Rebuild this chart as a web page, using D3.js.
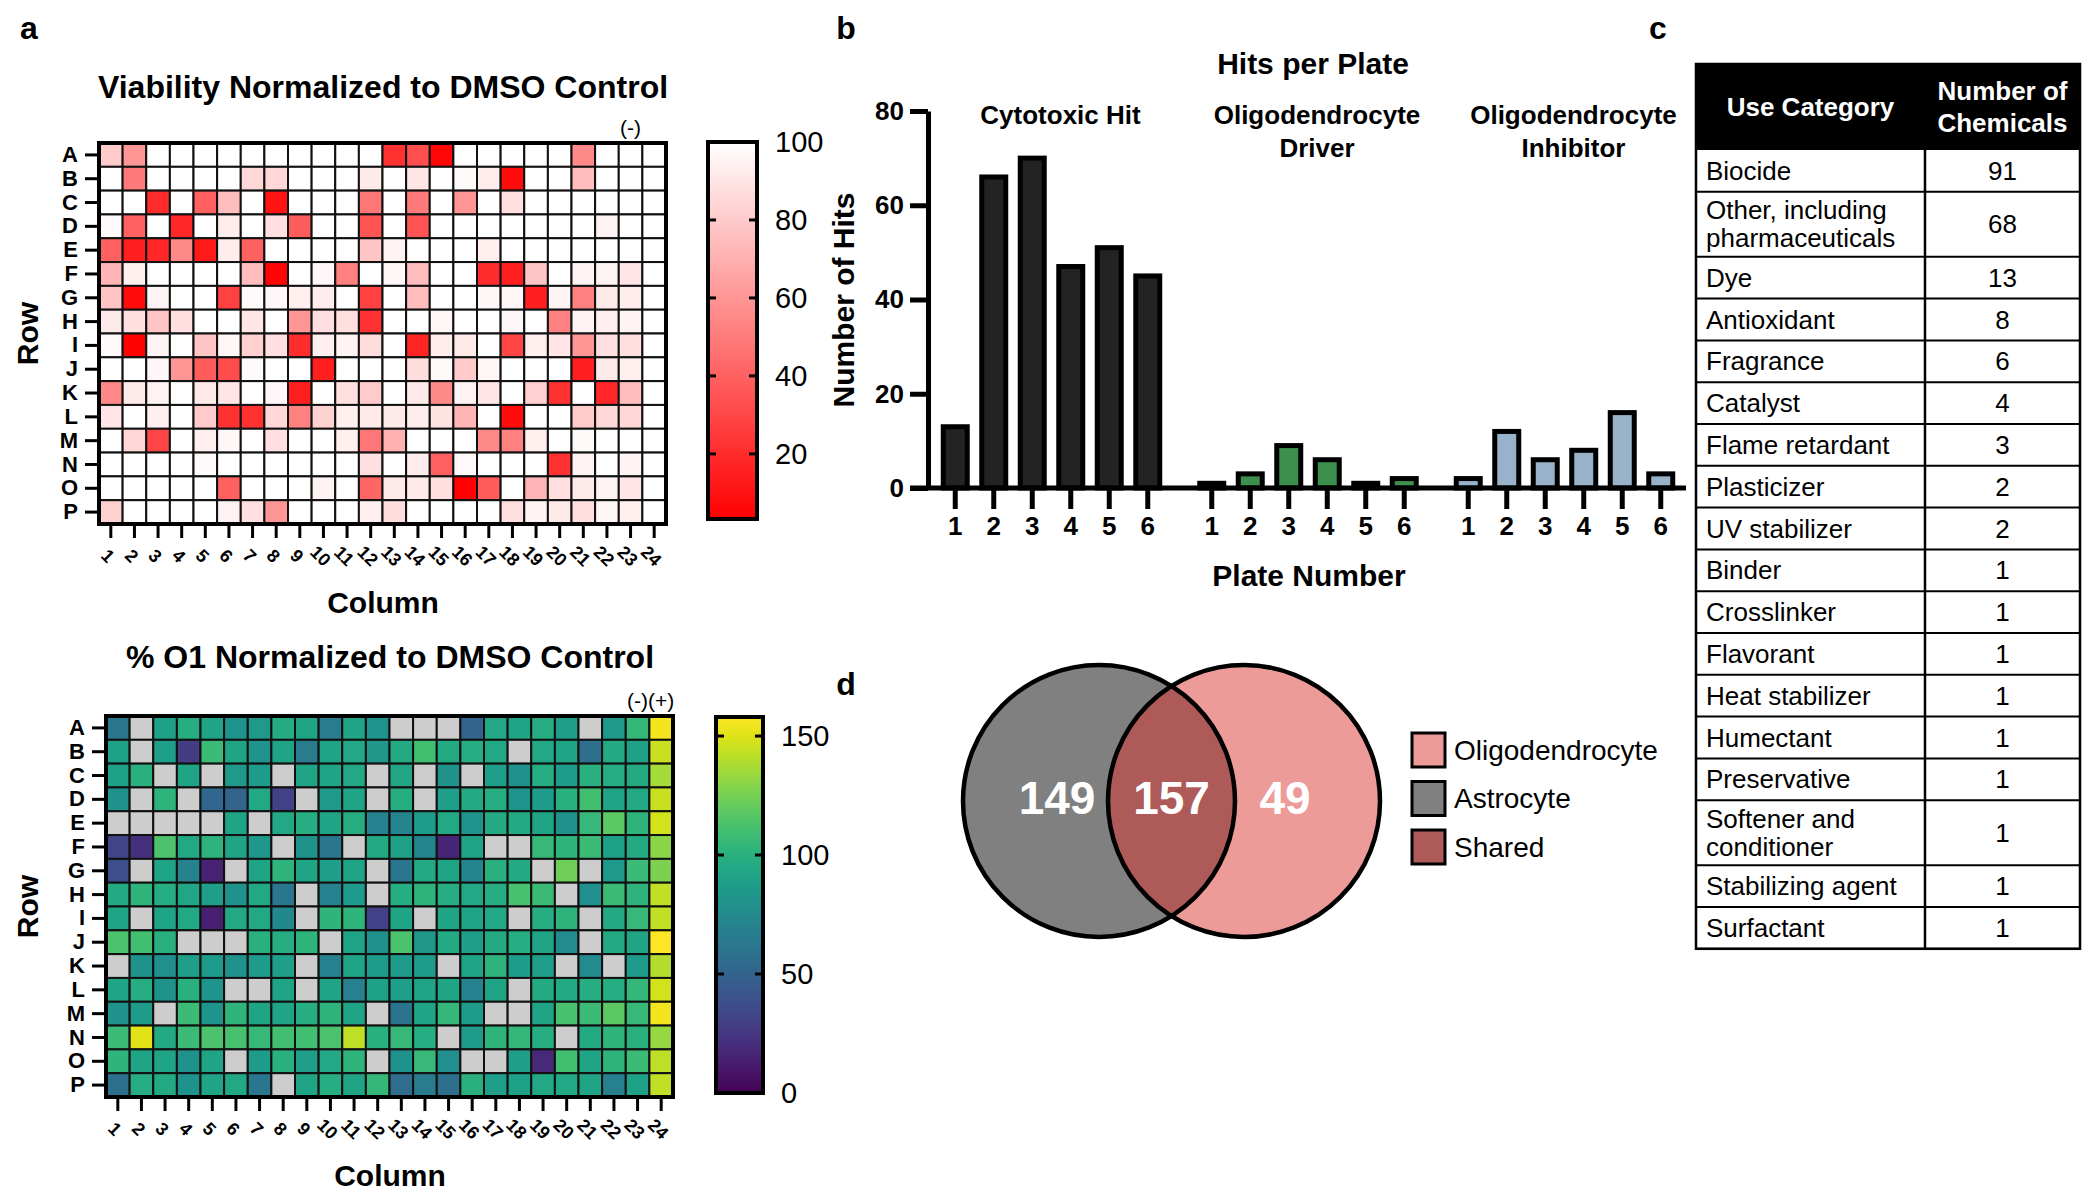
<!DOCTYPE html>
<html><head><meta charset="utf-8">
<script src="https://cdn.jsdelivr.net/npm/d3@7"></script>
<style>
body{margin:0;background:#fff}
svg{display:block}
text{font-family:"Liberation Sans",Arial,Helvetica,sans-serif;fill:#000}
</style>
</head><body>
<svg id="fig" width="2100" height="1201"></svg>
<script>
// ---------------- DATA ----------------
const rowLabels = ["A","B","C","D","E","F","G","H","I","J","K","L","M","N","O","P"];
const colLabels = ["1","2","3","4","5","6","7","8","9","10","11","12","13","14","15","16","17","18","19","20","21","22","23","24"];

// Viability normalized to DMSO control (%)
const viability = [
 [80,60,100,100,100,100,100,100,100,100,100,100,22,33,6,100,100,100,100,100,55,100,100,100],
 [100,50,100,100,100,100,85,85,100,100,100,92,100,90,100,98,93,8,100,100,75,100,100,100],
 [100,100,20,100,40,75,100,10,100,100,100,48,100,50,100,60,100,88,100,100,100,100,100,100],
 [98,40,100,18,100,93,100,88,38,100,100,35,100,35,100,100,100,100,100,100,100,95,100,100],
 [40,15,18,55,13,93,40,100,100,100,100,78,95,100,100,100,94,100,100,100,100,100,100,100],
 [72,94,100,100,100,100,75,5,100,97,52,100,97,75,100,100,20,15,78,100,96,96,90,100],
 [78,8,96,100,100,28,98,97,94,93,100,28,100,75,100,100,97,97,15,96,52,92,93,100],
 [92,88,78,88,100,100,90,100,60,88,88,22,100,100,97,100,100,97,100,52,95,94,96,100],
 [98,4,96,100,78,97,82,88,20,94,96,87,100,17,93,92,100,30,94,90,60,88,88,100],
 [100,100,97,60,38,32,98,100,100,15,100,100,100,87,98,80,97,100,100,100,15,92,94,100],
 [55,92,95,100,92,90,100,97,15,100,88,80,100,92,55,95,90,100,82,22,100,18,75,100],
 [90,100,94,100,80,22,22,85,52,83,94,92,92,93,89,72,100,8,100,100,80,85,85,100],
 [100,85,30,100,94,97,100,88,100,100,94,48,70,100,100,100,55,52,94,100,98,100,100,100],
 [100,100,100,100,98,100,100,100,100,100,100,88,100,93,40,98,100,100,100,22,95,100,96,100],
 [100,100,100,100,100,40,100,100,100,95,100,42,92,92,88,4,38,100,72,88,92,96,90,100],
 [82,100,100,100,100,95,88,60,100,100,100,94,87,100,100,100,100,88,96,92,88,97,94,100]
];

// % O1 normalized to DMSO control (null = excluded well)
const o1 = [
 [62,null,90,98,92,82,85,97,92,66,92,82,null,null,null,50,95,92,98,88,null,85,105,155],
 [90,null,88,28,108,92,82,92,66,92,95,84,96,110,96,98,95,null,95,92,57,96,90,145],
 [90,100,null,92,null,85,86,null,92,92,95,null,93,null,80,null,88,80,98,86,100,98,96,137],
 [80,null,102,null,52,50,95,30,null,85,92,null,98,null,88,96,98,82,86,100,110,92,95,145],
 [null,null,null,null,null,92,null,95,98,92,98,70,72,86,95,82,96,96,92,80,106,118,102,147],
 [32,22,113,95,102,92,84,null,80,62,null,96,90,72,17,92,null,null,106,103,108,90,96,130],
 [38,null,92,70,15,null,92,102,92,88,92,null,62,96,92,72,100,96,null,123,null,85,108,127],
 [96,103,98,93,88,80,95,62,null,68,86,null,98,102,98,95,98,112,108,null,78,108,102,143],
 [92,null,92,95,14,95,95,74,null,103,103,30,92,null,92,92,95,null,98,102,null,96,106,143],
 [113,110,100,null,null,null,100,98,103,null,92,80,113,84,96,88,96,98,92,75,null,96,92,158],
 [null,80,78,88,86,80,86,88,null,68,92,86,86,86,null,92,102,86,88,null,75,null,86,140],
 [92,98,80,100,82,null,null,92,null,92,68,90,88,92,92,70,92,null,96,96,98,98,105,147],
 [80,86,null,108,82,103,92,92,98,102,92,null,60,92,105,86,null,null,92,112,108,118,106,155],
 [108,150,96,108,113,112,106,110,110,113,142,100,106,98,null,86,103,105,98,null,96,103,100,133],
 [103,92,92,80,92,null,86,100,88,95,103,null,80,106,78,null,null,88,18,110,92,102,108,142],
 [58,98,96,80,92,95,62,null,92,98,92,105,55,65,57,100,88,90,95,95,92,68,90,143]
];
const viabilityTicks = [20,40,60,80,100];
const o1Ticks = [0,50,100,150];

const plates = ["1","2","3","4","5","6"];
const hitGroups = ["Cytotoxic Hit","Oligodendrocyte Driver","Oligodendrocyte Inhibitor"];
const hitGroupLines = [["Cytotoxic Hit"],["Oligodendrocyte","Driver"],["Oligodendrocyte","Inhibitor"]];
const cytotoxicHits = [13,66,70,47,51,45];
const driverHits = [1,3,9,6,1,2];
const inhibitorHits = [2,12,6,8,16,3];
const hitTicks = [0,20,40,60,80];

const useCategories = ["Biocide","Other, including\npharmaceuticals","Dye","Antioxidant","Fragrance","Catalyst",
 "Flame retardant","Plasticizer","UV stabilizer","Binder","Crosslinker","Flavorant","Heat stabilizer",
 "Humectant","Preservative","Softener and\nconditioner","Stabilizing agent","Surfactant"];
const chemicalCounts = [91,68,13,8,6,4,3,2,2,1,1,1,1,1,1,1,1,1];

const vennSets = ["Astrocyte","Shared","Oligodendrocyte"];
const vennCounts = [149,157,49];
const legendOrder = ["Oligodendrocyte","Astrocyte","Shared"];

// ---------------- DRAW ----------------
const svg = d3.select("#fig");
const FONT = '"Liberation Sans",Arial,Helvetica,sans-serif';

function txt(g, x, y, s, size, weight, anchor){
  return g.append("text").attr("x",x).attr("y",y).text(s)
    .style("font-size",size+"px").style("font-weight",weight||400)
    .attr("text-anchor",anchor||"middle").attr("dominant-baseline","central");
}

// panel letters
txt(svg,29,28,"a",32,700);
txt(svg,846,28,"b",32,700);
txt(svg,1658,28,"c",32,700);
txt(svg,846,684,"d",32,700);

function heatmap(cfg){
  const g = svg.append("g");
  const x = d3.scaleBand().domain(colLabels).range([cfg.x0, cfg.x0+cfg.w]);
  const y = d3.scaleBand().domain(rowLabels).range([cfg.y0, cfg.y0+cfg.h]);
  const cells = cfg.data.flatMap((row,i)=>row.map((v,j)=>({r:rowLabels[i],c:colLabels[j],v})));
  g.selectAll("rect.cell").data(cells).join("rect").attr("class","cell")
    .attr("x",d=>x(d.c)).attr("y",d=>y(d.r))
    .attr("width",x.bandwidth()).attr("height",y.bandwidth())
    .attr("fill",d=>d.v==null?"#cdcdcd":cfg.color(d.v))
    .attr("stroke","#111").attr("stroke-width",2);
  g.append("rect").attr("x",cfg.x0).attr("y",cfg.y0).attr("width",cfg.w).attr("height",cfg.h)
    .attr("fill","none").attr("stroke","#000").attr("stroke-width",4);
  // row axis
  const ya = g.append("g").attr("transform",`translate(${cfg.x0-2},0)`)
    .call(d3.axisLeft(y).tickSize(12).tickPadding(7));
  ya.select(".domain").remove();
  ya.selectAll("line").attr("stroke","#000").attr("stroke-width",3);
  ya.selectAll("text").style("font-size","22px").style("font-weight",700).style("font-family",FONT);
  // column axis
  const xa = g.append("g").attr("transform",`translate(0,${cfg.y0+cfg.h+1})`)
    .call(d3.axisBottom(x).tickSize(13));
  xa.select(".domain").remove();
  xa.selectAll("line").attr("stroke","#000").attr("stroke-width",3);
  xa.selectAll("text").attr("y",0).attr("dy",0).attr("text-anchor","middle")
    .attr("dominant-baseline","central")
    .attr("transform","translate(-3,31) rotate(45)")
    .style("font-size","18px").style("font-weight",700).style("font-family",FONT);
  // titles
  txt(g, cfg.titleX, cfg.titleY, cfg.title, 32, 700);
  txt(g, cfg.titleX, cfg.y0+cfg.h+78, "Column", 30, 700);
  txt(g, 0, 0, "Row", 30, 700).attr("transform",`translate(27,${cfg.y0+cfg.h/2}) rotate(-90)`);
  // control markers
  cfg.markers.forEach(m=>{ txt(g, x(m.col)+x.bandwidth()/2, cfg.y0-16, m.label, 21, 400); });
  // colorbar
  const cb = cfg.cb;
  const cy = d3.scaleLinear().domain(cb.domain).range([cb.y1, cb.y0]);
  const gid = "grad"+cfg.id;
  const grad = svg.append("defs").append("linearGradient").attr("id",gid)
    .attr("x1",0).attr("y1",1).attr("x2",0).attr("y2",0);
  d3.range(0,1.0001,0.05).forEach(t=>{
    grad.append("stop").attr("offset",t).attr("stop-color",cfg.color(cb.domain[0]+t*(cb.domain[1]-cb.domain[0])));
  });
  g.append("rect").attr("x",cb.x).attr("y",cb.y0).attr("width",cb.w).attr("height",cb.y1-cb.y0)
    .attr("fill",`url(#${gid})`).attr("stroke","#000").attr("stroke-width",4);
  cb.ticks.filter(t=>cy(t)>cb.y0+6 && cy(t)<cb.y1-6).forEach(t=>{
    g.append("line").attr("x1",cb.x).attr("x2",cb.x+8).attr("y1",cy(t)).attr("y2",cy(t)).attr("stroke","#000").attr("stroke-width",3);
    g.append("line").attr("x1",cb.x+cb.w-8).attr("x2",cb.x+cb.w).attr("y1",cy(t)).attr("y2",cy(t)).attr("stroke","#000").attr("stroke-width",3);
  });
  const ca = g.append("g").attr("transform",`translate(${cb.x+cb.w},0)`)
    .call(d3.axisRight(cy).tickValues(cb.ticks).tickSize(0).tickPadding(18));
  ca.select(".domain").remove();
  ca.selectAll("text").style("font-size","29px").style("font-family",FONT);
}

heatmap({id:"v", x0:99, y0:143, w:567, h:381, data:viability,
  color:d3.scaleLinear().domain([3.3,100]).range(["#ff0000","#ffffff"]).clamp(true),
  title:"Viability Normalized to DMSO Control", titleX:383, titleY:87,
  markers:[{col:"23",label:"(-)"}],
  cb:{x:708,w:49,y0:142,y1:519,domain:[3.3,100],ticks:viabilityTicks}});

const vir = d3.scaleSequential(d3.interpolateViridis).domain([0,158]);
heatmap({id:"o", x0:106, y0:716, w:567, h:381, data:o1,
  color:v=>vir(v),
  title:"% O1 Normalized to DMSO Control", titleX:390, titleY:657,
  markers:[{col:"23",label:"(-)"},{col:"24",label:"(+)"}],
  cb:{x:716,w:47,y0:717,y1:1093,domain:[0,158],ticks:o1Ticks}});

// ---------- bar chart ----------
{
  const g = svg.append("g");
  const outer = d3.scaleBand().domain(hitGroups).range([936,1680]).paddingInner(0.0994);
  const inner = d3.scaleBand().domain(plates).range([0,outer.bandwidth()]).paddingInner(0.377).paddingOuter(0.1885);
  const y = d3.scaleLinear().domain([0,80]).range([488,111]);
  const series = [cytotoxicHits, driverHits, inhibitorHits];
  const fills = ["#232323","#3d8f4d","#98b3c9"];
  const bars = hitGroups.flatMap((grp,gi)=>plates.map((p,pi)=>({grp,p,v:series[gi][pi],fill:fills[gi]})));
  g.selectAll("rect.bar").data(bars).join("rect").attr("class","bar")
    .attr("x",d=>outer(d.grp)+inner(d.p)).attr("width",inner.bandwidth())
    .attr("y",d=>y(d.v)).attr("height",d=>y(0)-y(d.v))
    .attr("fill",d=>d.fill).attr("stroke","#000").attr("stroke-width",5);
  // y axis
  const ya = g.append("g").attr("transform","translate(928,0)")
    .call(d3.axisLeft(y).tickValues(hitTicks).tickSize(18).tickSizeOuter(0).tickPadding(6));
  ya.select(".domain").attr("stroke","#000").attr("stroke-width",5);
  ya.selectAll("line").attr("stroke","#000").attr("stroke-width",5);
  ya.selectAll("text").style("font-size","26px").style("font-weight",700).style("font-family",FONT);
  // x axis per group
  hitGroups.forEach((grp,gi)=>{
    const xa = g.append("g").attr("transform",`translate(${outer(grp)},490)`)
      .call(d3.axisBottom(inner).tickSize(19).tickPadding(8));
    xa.select(".domain").remove();
    xa.selectAll("line").attr("stroke","#000").attr("stroke-width",5);
    xa.selectAll("text").style("font-size","26px").style("font-weight",700).style("font-family",FONT);
    hitGroupLines[gi].forEach((ln,li)=>{
      txt(g, outer(grp)+outer.bandwidth()/2+9, 115+li*33, ln, 26, 700);
    });
  });
  g.append("line").attr("x1",910).attr("x2",1686).attr("y1",y(0)).attr("y2",y(0)).attr("stroke","#000").attr("stroke-width",5);
  txt(g,1313,63,"Hits per Plate",30,700);
  txt(g,1309,575,"Plate Number",30,700);
  txt(g,0,0,"Number of Hits",30,700).attr("transform","translate(843,300) rotate(-90)");
}

// ---------- table ----------
{
  const g = svg.append("g");
  const tx0 = 1696, tx1 = 2080, tdiv = 1925, top = 64, headH = 86;
  const lines = useCategories.map(s=>s.split("\n"));
  const single = 41.8, dbl = 65;
  let yy = top+headH;
  const rows = useCategories.map((c,i)=>{ const h = lines[i].length>1?dbl:single; const r={c,lines:lines[i],n:chemicalCounts[i],y:yy,h}; yy+=h; return r; });
  const bottom = yy;
  g.append("rect").attr("x",tx0).attr("y",top).attr("width",tx1-tx0).attr("height",headH).attr("fill","#000");
  txt(g,(tx0+tdiv)/2,top+headH/2,"Use Category",26,700).style("fill","#fff");
  txt(g,(tdiv+tx1)/2,top+headH/2-16,"Number of",26,700).style("fill","#fff");
  txt(g,(tdiv+tx1)/2,top+headH/2+16,"Chemicals",26,700).style("fill","#fff");
  const rg = g.selectAll("g.row").data(rows).join("g").attr("class","row");
  rg.append("line").attr("x1",tx0).attr("x2",tx1).attr("y1",d=>d.y+d.h).attr("y2",d=>d.y+d.h)
    .attr("stroke","#000").attr("stroke-width",2);
  rg.each(function(d){
    const s = d3.select(this);
    d.lines.forEach((ln,li)=>{
      const off = (li-(d.lines.length-1)/2)*28;
      txt(s, tx0+10, d.y+d.h/2+off, ln, 26, 400, "start");
    });
    txt(s,(tdiv+tx1)/2, d.y+d.h/2, String(d.n), 26, 400);
  });
  g.append("line").attr("x1",tdiv).attr("x2",tdiv).attr("y1",top+headH).attr("y2",bottom).attr("stroke","#000").attr("stroke-width",2.5);
  g.append("rect").attr("x",tx0).attr("y",top).attr("width",tx1-tx0).attr("height",bottom-top)
    .attr("fill","none").attr("stroke","#000").attr("stroke-width",2.5);
}

// ---------- venn ----------
{
  const g = svg.append("g");
  const r = 136, cyv = 801, cxA = 1099, cxO = 1244;
  const colors = {Oligodendrocyte:"#ec9b98", Astrocyte:"#808080", Shared:"#ad5a58"};
  svg.append("defs").append("clipPath").attr("id","clipA").append("circle").attr("cx",cxA).attr("cy",cyv).attr("r",r);
  g.append("circle").attr("cx",cxA).attr("cy",cyv).attr("r",r).attr("fill",colors.Astrocyte);
  g.append("circle").attr("cx",cxO).attr("cy",cyv).attr("r",r).attr("fill",colors.Oligodendrocyte);
  g.append("circle").attr("cx",cxO).attr("cy",cyv).attr("r",r).attr("fill",colors.Shared).attr("clip-path","url(#clipA)");
  [cxA,cxO].forEach(cx=>g.append("circle").attr("cx",cx).attr("cy",cyv).attr("r",r).attr("fill","none").attr("stroke","#000").attr("stroke-width",4.5));
  const labelX = [cxA-42,(cxA+cxO)/2,cxO+41];
  vennSets.forEach((s,i)=>{ txt(g,labelX[i],cyv-3,String(vennCounts[i]),46,700).style("fill","#fff"); });
  legendOrder.forEach((s,i)=>{
    const ly = 733+i*48.5;
    g.append("rect").attr("x",1412).attr("y",ly).attr("width",33).attr("height",34)
      .attr("fill",colors[s]).attr("stroke","#000").attr("stroke-width",3);
    txt(g,1454,ly+17,s,28,400,"start");
  });
}
</script>
</body></html>
